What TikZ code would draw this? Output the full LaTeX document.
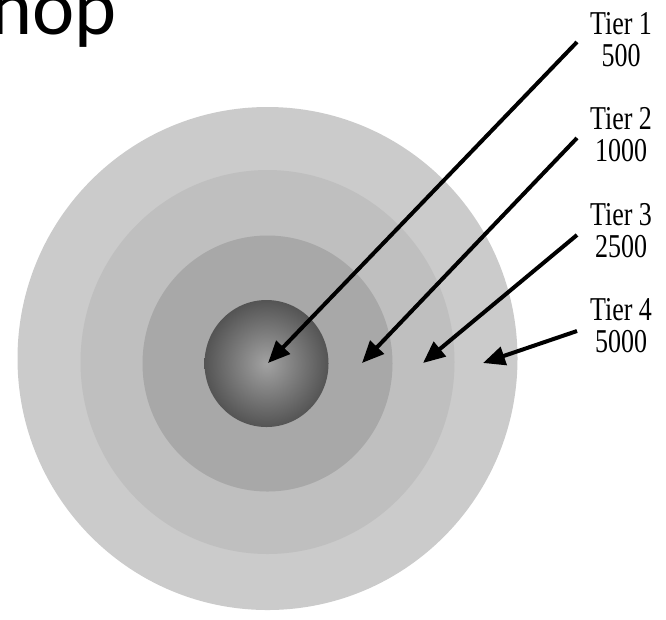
\documentclass[tikz,border=0pt]{standalone}
\usepackage{fontspec}
\setmainfont{Liberation Serif}
\newfontfamily\hopfont{Carlito}
\usetikzlibrary{arrows.meta}

\definecolor{ringfour}{RGB}{203,203,203}
\definecolor{ringthree}{RGB}{191,191,191}
\definecolor{ringtwo}{RGB}{168,168,168}
\definecolor{corein}{RGB}{162,162,162}
\definecolor{coreout}{RGB}{84,84,84}

\tikzset{every picture/.style={line width=0.75pt}}
\tikzset{
  pointer/.style={line width=3pt, -{Triangle[length=16.5pt,width=14pt]}},
  tierlabel/.style={align=center, inner sep=0pt, anchor=north, xscale=0.78,
    font=\fontsize{25}{24}\selectfont},
}

\begin{document}
\begin{tikzpicture}[x=0.75pt,y=0.75pt,yscale=-1,xscale=1]
\useasboundingbox (0,0) rectangle (666,619);
\clip (0,0) rectangle (666,619);

% cropped heading
\node[anchor=base west, inner sep=0pt, font=\hopfont\fontsize{60}{60}\selectfont] (hop) at (-10,34) {hop};

%Shape: Rings
\fill[ringfour] (267.5,358.5) ellipse [x radius=250, y radius=251.5];
\fill[ringthree] (267.5,362) ellipse [x radius=187, y radius=192];
\fill[ringtwo] (267.5,363.5) ellipse [x radius=125, y radius=128];
%Shape: Core
\shade[inner color=corein, outer color=coreout] (266.5,363.5) ellipse [x radius=62, y radius=63.5];

% arrow ends
\coordinate (tail1) at (577,42);
\coordinate (tail2) at (577,138);
\coordinate (tail3) at (577,235);
\coordinate (tail4) at (577,331);
\coordinate (tip1) at (268,363);
\coordinate (tip2) at (362,363);
\coordinate (tip3) at (423,363);
\coordinate (tip4) at (483,363);

\draw[pointer] (tail1) -- (tip1);
\draw[pointer] (tail2) -- (tip2);
\draw[pointer] (tail3) -- (tip3);
\draw[pointer] (tail4) -- (tip4);

% Text Node
\node[tierlabel] (tier1) at (621,12) {Tier 1\\500};
% Text Node
\node[tierlabel] (tier2) at (621,107) {Tier 2\\1000};
% Text Node
\node[tierlabel] (tier3) at (621,203) {Tier 3\\2500};
% Text Node
\node[tierlabel] (tier4) at (621,298) {Tier 4\\5000};

\end{tikzpicture}
\end{document}
